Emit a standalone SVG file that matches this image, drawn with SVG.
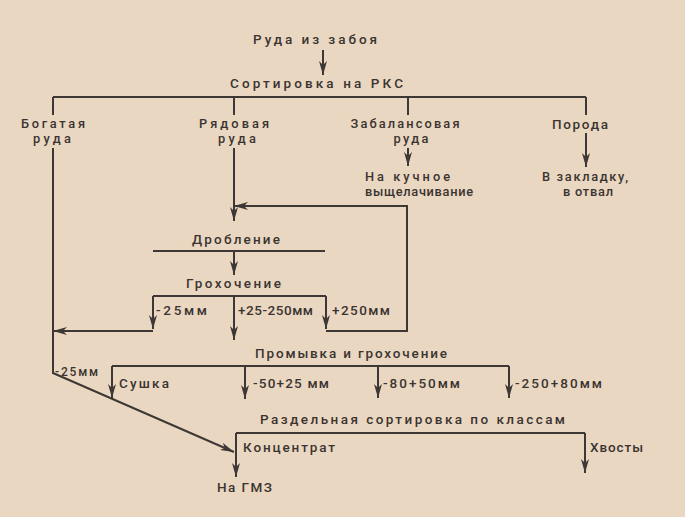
<svg xmlns="http://www.w3.org/2000/svg" width="685" height="517" viewBox="0 0 685 517">
<style>
text{font-family:"Roboto","Liberation Sans","DejaVu Sans",sans-serif;font-size:13.5px;font-weight:500;fill:#3a3431;text-anchor:middle}
.s{text-anchor:start}
.sm{font-size:12px}
.two{font-size:12.8px}
.ln{fill:none;stroke:#3d3835;stroke-width:2}
</style>
<defs>
<marker id="ah" viewBox="0 0 14 8" refX="14" refY="4" markerWidth="14" markerHeight="8" markerUnits="userSpaceOnUse" orient="auto">
<path d="M0,0 L14,4 L0,8 L4,4 z" fill="#3d3835"/>
</marker>
</defs>
<rect width="685" height="517" fill="#ead7c1"/>
<g id="connectors">
<path class="ln" d="M323,50 V75" marker-end="url(#ah)"/>
<path class="ln" d="M53,97 H586"/>
<path class="ln" d="M53,97 V115 M234,97 V115 M408,97 V115 M586,97 V115"/>
<path class="ln" d="M408,148 V166" marker-end="url(#ah)"/>
<path class="ln" d="M586,133 V167" marker-end="url(#ah)"/>
<path class="ln" d="M53,148 V373 L234,452" marker-end="url(#ah)"/>
<path class="ln" d="M234,148 V221" marker-end="url(#ah)"/>
<path class="ln" d="M153,251 H325"/>
<path class="ln" d="M234,251 V275" marker-end="url(#ah)"/>
<path class="ln" d="M153,296 H326"/>
<path class="ln" d="M153,296 V329" marker-end="url(#ah)"/>
<path class="ln" d="M153,331 H53" marker-end="url(#ah)"/>
<path class="ln" d="M234,296 V340" marker-end="url(#ah)"/>
<path class="ln" d="M326,296 V329" marker-end="url(#ah)"/>
<path class="ln" d="M326,331 H407 V206 H234" marker-end="url(#ah)"/>
<path class="ln" d="M112,366 H509"/>
<path class="ln" d="M112,366 V398" marker-end="url(#ah)"/>
<path class="ln" d="M245,366 V399" marker-end="url(#ah)"/>
<path class="ln" d="M378,366 V398" marker-end="url(#ah)"/>
<path class="ln" d="M509,366 V398" marker-end="url(#ah)"/>
<path class="ln" d="M236,433 H585"/>
<path class="ln" d="M236,433 V477" marker-end="url(#ah)"/>
<path class="ln" d="M585,433 V473" marker-end="url(#ah)"/>
</g>
<g id="n-ruda"><text x="315" y="44" textLength="124" lengthAdjust="spacing">Руда из забоя</text></g>
<g id="n-sort"><text x="316.5" y="88" textLength="173" lengthAdjust="spacing">Сортировка на РКС</text></g>
<g id="n-bogataya"><text class="two"><tspan x="53" y="128" textLength="64" lengthAdjust="spacing">Богатая</tspan><tspan x="52" y="143" textLength="38" lengthAdjust="spacing">руда</tspan></text></g>
<g id="n-ryadovaya"><text class="two"><tspan x="234" y="128" textLength="70" lengthAdjust="spacing">Рядовая</tspan><tspan x="237" y="143" textLength="38" lengthAdjust="spacing">руда</tspan></text></g>
<g id="n-zabalans"><text class="two"><tspan x="405" y="128" textLength="109" lengthAdjust="spacing">Забалансовая</tspan><tspan x="411" y="143" textLength="35" lengthAdjust="spacing">руда</tspan></text></g>
<g id="n-poroda"><text x="580" y="129" textLength="56" lengthAdjust="spacing">Порода</text></g>
<g id="n-kuchnoe"><text class="s two"><tspan x="365" y="181" textLength="85" lengthAdjust="spacing">На кучное</tspan><tspan x="365" y="196" textLength="108" lengthAdjust="spacing">выщелачивание</tspan></text></g>
<g id="n-zakladka"><text class="two"><tspan x="585" y="181" textLength="86" lengthAdjust="spacing">В закладку,</tspan><tspan x="588" y="196" textLength="50" lengthAdjust="spacing">в отвал</tspan></text></g>
<g id="n-droblenie"><text x="236" y="244" textLength="88" lengthAdjust="spacing">Дробление</text></g>
<g id="n-grohochenie"><text x="233.5" y="288" textLength="95" lengthAdjust="spacing">Грохочение</text></g>
<g id="l-25"><text class="s" x="156" y="315" textLength="51" lengthAdjust="spacing">-25мм</text></g>
<g id="l-25-250"><text class="s" x="238" y="315" textLength="75" lengthAdjust="spacing">+25-250мм</text></g>
<g id="l-250"><text class="s" x="332" y="315" textLength="58" lengthAdjust="spacing">+250мм</text></g>
<g id="n-promyvka"><text x="351" y="358" textLength="192" lengthAdjust="spacing">Промывка и грохочение</text></g>
<g id="l-25b"><text class="s sm" x="55" y="376" textLength="43" lengthAdjust="spacing">-25мм</text></g>
<g id="n-sushka"><text class="s" x="119" y="388" textLength="50" lengthAdjust="spacing">Сушка</text></g>
<g id="l-50-25"><text class="s" x="253" y="388" textLength="76" lengthAdjust="spacing">-50+25 мм</text></g>
<g id="l-80-50"><text class="s" x="383" y="388" textLength="77" lengthAdjust="spacing">-80+50мм</text></g>
<g id="l-250-80"><text class="s" x="515" y="388" textLength="87" lengthAdjust="spacing">-250+80мм</text></g>
<g id="n-razdel"><text x="412.5" y="424" textLength="305" lengthAdjust="spacing">Раздельная сортировка по классам</text></g>
<g id="n-koncentrat"><text class="s" x="243" y="452" textLength="92" lengthAdjust="spacing">Концентрат</text></g>
<g id="n-hvosty"><text class="s" x="590" y="452" textLength="53" lengthAdjust="spacing">Хвосты</text></g>
<g id="n-gmz"><text x="244.5" y="492" textLength="55" lengthAdjust="spacing">На ГМЗ</text></g>
</svg>
